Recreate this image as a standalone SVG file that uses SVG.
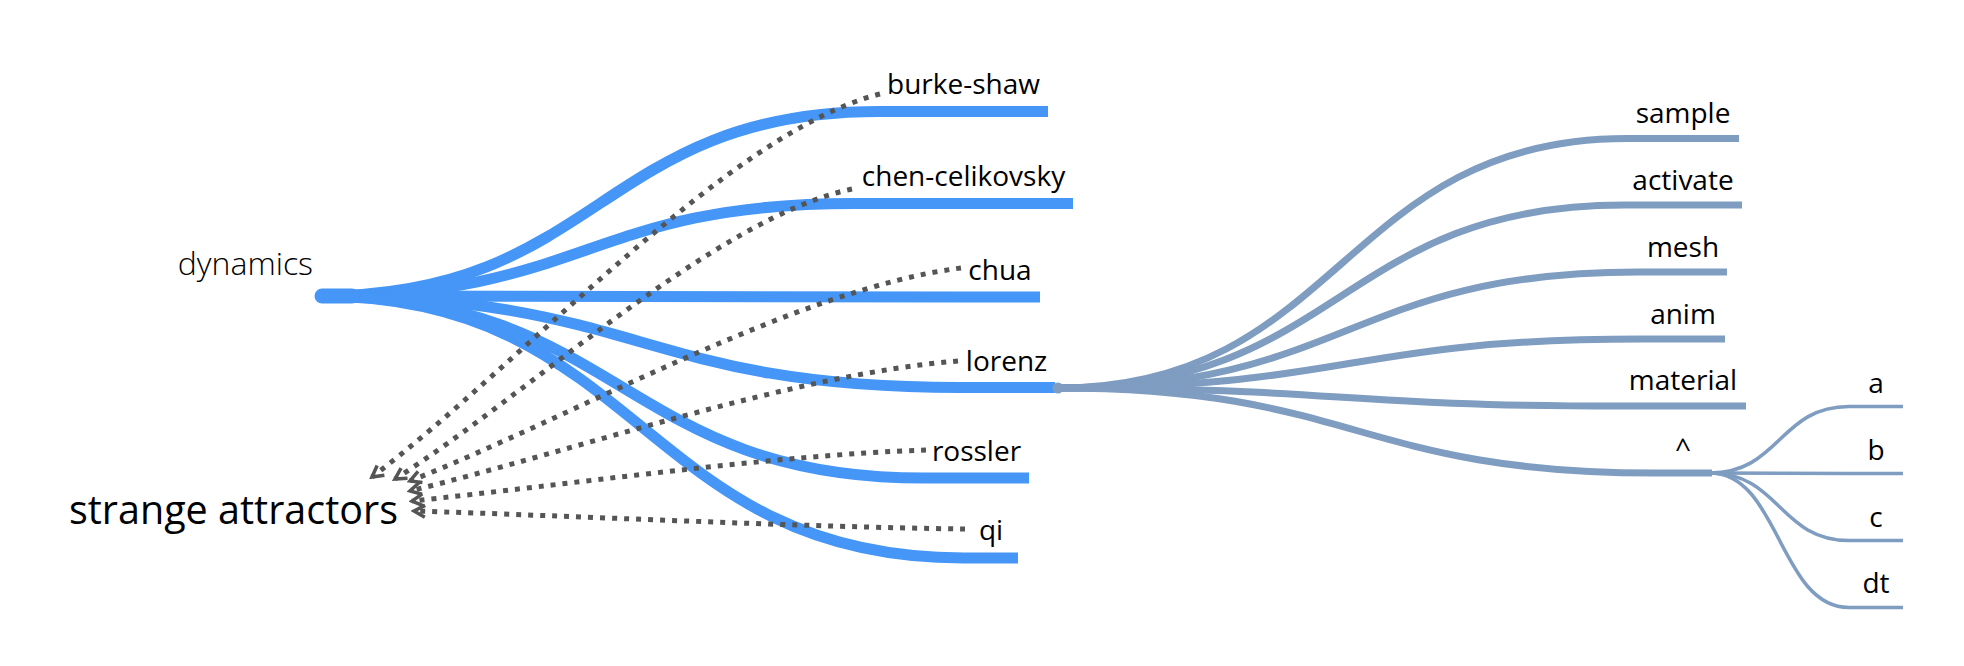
<svg xmlns="http://www.w3.org/2000/svg" width="1964" height="666" viewBox="0 0 1964 666">
<style>
  .lbl { font-family: "Open Sans", "Liberation Sans", sans-serif; font-size: 28px; fill: #000; text-anchor: middle; }
  .root { font-family: "Open Sans", "Liberation Sans", sans-serif; font-size: 32px; font-weight: 300; fill: #000; text-anchor: end; }
  .big { font-family: "Open Sans", "Liberation Sans", sans-serif; font-size: 39.5px; fill: #000; text-anchor: end; }
  .blue { fill: none; stroke: #4596f6; stroke-width: 11; }
  .grey { fill: none; stroke: #7f9cc1; stroke-width: 7; }
  .thin { fill: none; stroke: #7f9cc1; stroke-width: 3.5; }
  .dot { fill: none; stroke: #555555; stroke-width: 5; stroke-dasharray: 5 7; marker-end: url(#arr); }
</style>
<defs>
  <marker id="arr" viewBox="0 0 16 16" refX="13" refY="8" markerWidth="16" markerHeight="16" markerUnits="userSpaceOnUse" orient="auto">
    <path d="M2,2 L13,8 L2,14" fill="none" stroke="#555555" stroke-width="3.5"/>
  </marker>
</defs>
<rect width="1964" height="666" fill="#ffffff"/>
<g id="connectors">
  <g id="tree-links">
    <path class="blue" d="M320,296 C599.5,296 599.5,111.5 879,111.5 H1048"/>
    <path class="blue" d="M320,296 C587,296 587,203.5 854,203.5 H1073"/>
    <path class="blue" d="M320,296 C640,296 640,297 960,297 H1040"/>
    <path class="blue" d="M320,296 C640,296 640,387.5 960,387.5 H1055"/>
    <path class="blue" d="M320,296 C622,296 622,478 924,478 H1029"/>
    <path class="blue" d="M320,296 C642,296 642,558 964,558 H1018"/>
    <path d="M322,296 H352" stroke="#4596f6" stroke-width="15" stroke-linecap="round" fill="none"/>
    <path class="grey" d="M1057,388 C1342,388 1342,138.5 1627,138.5 H1739"/>
    <path class="grey" d="M1057,388 C1340.5,388 1340.5,205 1624,205 H1742"/>
    <path class="grey" d="M1057,388 C1348,388 1348,272 1639,272 H1727"/>
    <path class="grey" d="M1057,388 C1349,388 1349,339 1641,339 H1725"/>
    <path class="grey" d="M1057,388 C1338.5,388 1338.5,406 1620,406 H1746"/>
    <path class="grey" d="M1057,388 C1356.5,388 1356.5,473 1656,473 H1712"/>
    <circle cx="1058" cy="388" r="5.5" fill="#7f9cc1"/>
    <path class="thin" d="M1710,473 C1779.5,473 1779.5,406.5 1849,406.5 H1903"/>
    <path class="thin" d="M1710,473 C1779.5,473 1779.5,473.5 1849,473.5 H1903"/>
    <path class="thin" d="M1710,473 C1779.5,473 1779.5,540.5 1849,540.5 H1903"/>
    <path class="thin" d="M1710,473 C1779.5,473 1779.5,607.5 1849,607.5 H1903"/>
  </g>
  <g id="dotted-links">
    <path class="dot" d="M880,94 C728,132 524,362 372,477"/>
    <path class="dot" d="M852,189 C715,218 532,392 395,479"/>
    <path class="dot" d="M961,268 C796,289 575,416 410,481"/>
    <path class="dot" d="M958,361 C794,374 574,451 410,491"/>
    <path class="dot" d="M926,450 C772,455 566,485 412,501"/>
    <path class="dot" d="M965,529 C800,527 579,516 414,511"/>
  </g>
</g>
<g id="node-dynamics"><text class="root" x="313" y="275">dynamics</text></g>
<g id="node-burke-shaw"><text class="lbl" x="963.5" y="94">burke-shaw</text></g>
<g id="node-chen-celikovsky"><text class="lbl" x="963.5" y="186">chen-celikovsky</text></g>
<g id="node-chua"><text class="lbl" x="1000" y="280">chua</text></g>
<g id="node-lorenz"><text class="lbl" x="1006.5" y="371">lorenz</text></g>
<g id="node-rossler"><text class="lbl" x="976.5" y="461">rossler</text></g>
<g id="node-qi"><text class="lbl" x="991" y="540">qi</text></g>
<g id="node-sample"><text class="lbl" x="1683" y="123">sample</text></g>
<g id="node-activate"><text class="lbl" x="1683" y="190">activate</text></g>
<g id="node-mesh"><text class="lbl" x="1683" y="257">mesh</text></g>
<g id="node-anim"><text class="lbl" x="1683" y="324">anim</text></g>
<g id="node-material"><text class="lbl" x="1683" y="390">material</text></g>
<g id="node-caret"><text class="lbl" x="1683" y="458">^</text></g>
<g id="node-a"><text class="lbl" x="1876" y="393">a</text></g>
<g id="node-b"><text class="lbl" x="1876" y="460">b</text></g>
<g id="node-c"><text class="lbl" x="1876" y="527">c</text></g>
<g id="node-dt"><text class="lbl" x="1876" y="593">dt</text></g>
<g id="node-strange-attractors"><text class="big" x="398" y="524">strange attractors</text></g>
</svg>
